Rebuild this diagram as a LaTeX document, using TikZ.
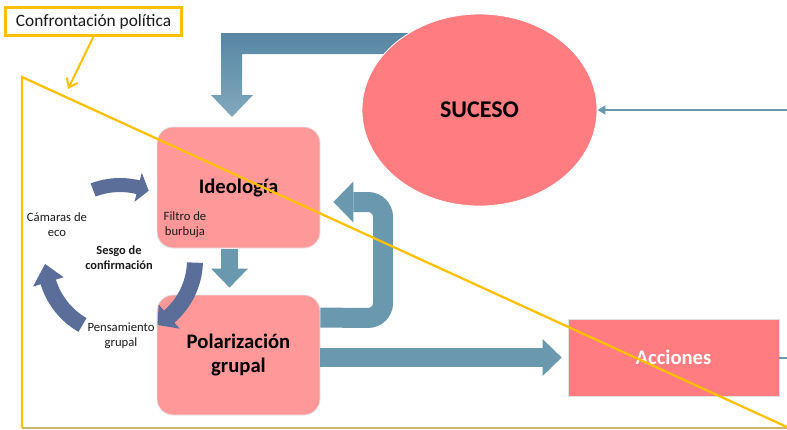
\documentclass[tikz,border=0pt]{standalone}
\usepackage{fontspec}
\setmainfont{Carlito}
\usetikzlibrary{arrows.meta,shapes.geometric,calc}
\definecolor{salmon}{HTML}{FF7C80}
\definecolor{pinkbox}{HTML}{FF9999}
\definecolor{steel}{HTML}{6A98AF}
\definecolor{ltop}{HTML}{5786A3}
\definecolor{lbot}{HTML}{82A8BD}
\definecolor{cycblue}{HTML}{5B6E9A}
\definecolor{yel}{HTML}{FFC000}
\definecolor{tanline}{HTML}{CDB670}
\definecolor{txt}{HTML}{1A1A1A}
\begin{document}
\begin{tikzpicture}[x=0.75pt,y=-0.75pt,
  pbox/.style={draw=black!10, line width=0.6pt, fill=pinkbox, rounded corners=12pt,
    minimum width=122.25pt, minimum height=90.75pt, inner sep=0pt, align=center,
    text=black, font=\bfseries\fontsize{15.5}{18}\selectfont},
  abox/.style={draw=black!12, line width=0.6pt, fill=salmon, minimum width=158.25pt,
    minimum height=57.75pt, inner sep=0pt, text=white, font=\bfseries\fontsize{15.5}{18}\selectfont},
  lbl/.style={inner sep=0pt, align=center, text=txt, font=\fontsize{9.5}{11.25}\selectfont},
  blkarr/.style={draw=steel, line cap=butt},
  cyc/.style={fill=cycblue},
  yline/.style={draw=yel, line width=1.7pt}
]
\useasboundingbox (0,0) rectangle (787,429);
\fill[white] (0,0) rectangle (787,429);

% L-shaped block arrow from SUCESO
\shade[top color=ltop, bottom color=lbot] (221,33) -- (450,33) -- (450,54) -- (242,54) -- (242,95)
  -- (253,95) -- (232,117) -- (211,95) -- (221,95) -- cycle;

% SUCESO
\node[ellipse, fill=salmon, draw=white, line width=0.6pt, minimum width=176.25pt, minimum height=144pt,
  inner sep=0pt, font=\bfseries\fontsize{18}{20}\selectfont] (suceso) at (479.5,110) {SUCESO};
\coordinate (rin) at (790,110);
\draw[steel, line width=1.5pt, -{Triangle[length=6pt,width=6.5pt]}] (rin) -- (suceso.east);

% boxes
\node[pbox] (ideo) at (238.5,187.5) {Ideología};
\node[pbox, minimum height=90pt] (polar) at (238.5,355) {Polarización\\grupal};
\node[abox] (acc) at (673.5,357.5) {Acciones};
\coordinate (rout) at (790,357.5);
\draw[steel, line width=1.5pt] (acc.east) -- (rout);

% block arrows
\draw[blkarr, line width=12.75pt, shorten >=5.25pt,
  -{Triangle[width=27.75pt,length=14.25pt,line width=0pt]}]
  ([xshift=-6.75pt,yshift=-0.75pt]ideo.south) -- ([xshift=-6.75pt]polar.north);
\draw[blkarr, line width=14.25pt, shorten >=4.5pt,
  -{Triangle[width=27.75pt,length=14.25pt,line width=0pt]}]
  (polar.east |- acc.west) -- (acc.west);
\draw[blkarr, line width=15pt, rounded corners=11.25pt, shorten >=9.75pt,
  -{Triangle[width=30.75pt,length=15pt,line width=0pt]}]
  ($(polar.north east)+(0,23)$) -- (383,318) -- (383,202) -- ($(ideo.east)+(0,14.5)$);

% cycle arrows
\begin{scope}[shift={(120,260)}]
  \fill[cyc] (-111:82) arc[start angle=-111,end angle=-76,radius=82] -- (-76:90) -- (-67.5:75)
    -- (-76:60) -- (-76:68) arc[start angle=-76,end angle=-111,radius=68] -- cycle;
  \fill[cyc] (2:83) arc[start angle=2,end angle=49,radius=83] -- (49:91) -- (60:75)
    -- (49:59) -- (49:67) arc[start angle=49,end angle=2,radius=67] -- cycle;
  \fill[cyc] (-240:83) arc[start angle=-240,end angle=-197,radius=83] -- (-197:91) -- (-183:75)
    -- (-197:59) -- (-197:67) arc[start angle=-197,end angle=-240,radius=67] -- cycle;
\end{scope}

% labels
\node[lbl] (camaras) at (57,225) {Cámaras de\\eco};
\node[lbl] (filtro) at (185,225) {Filtro de\\burbuja};
\node[lbl] (pensam) at (121,336) {Pensamiento\\grupal};
\node[lbl, font=\bfseries\fontsize{9.3}{11.25}\selectfont] (sesgo) at (119,258) {Sesgo de\\confirmación};

% yellow triangle
\coordinate (tA) at (22,77);
\coordinate (tB) at (22,428);
\coordinate (tC) at (790,428.4);
\coordinate (tD) at (790,428);
\draw[tanline, line width=1.3pt] (tB) -- (tD);
\draw[yline, line join=miter] (tB) -- (tA) -- (tC);

% title box
\node[draw=yel, line width=1.6pt, minimum width=132pt, minimum height=21pt, inner sep=0pt,
  text=txt, font=\fontsize{13}{15}\selectfont] (title) at (93.5,21.5) {Confrontación política};
\coordinate (ypt) at (68,89);
\draw[yel, line width=1.5pt, -{Straight Barb[length=6pt,width=9pt]}] (title.south) -- (ypt);
\end{tikzpicture}
\end{document}
